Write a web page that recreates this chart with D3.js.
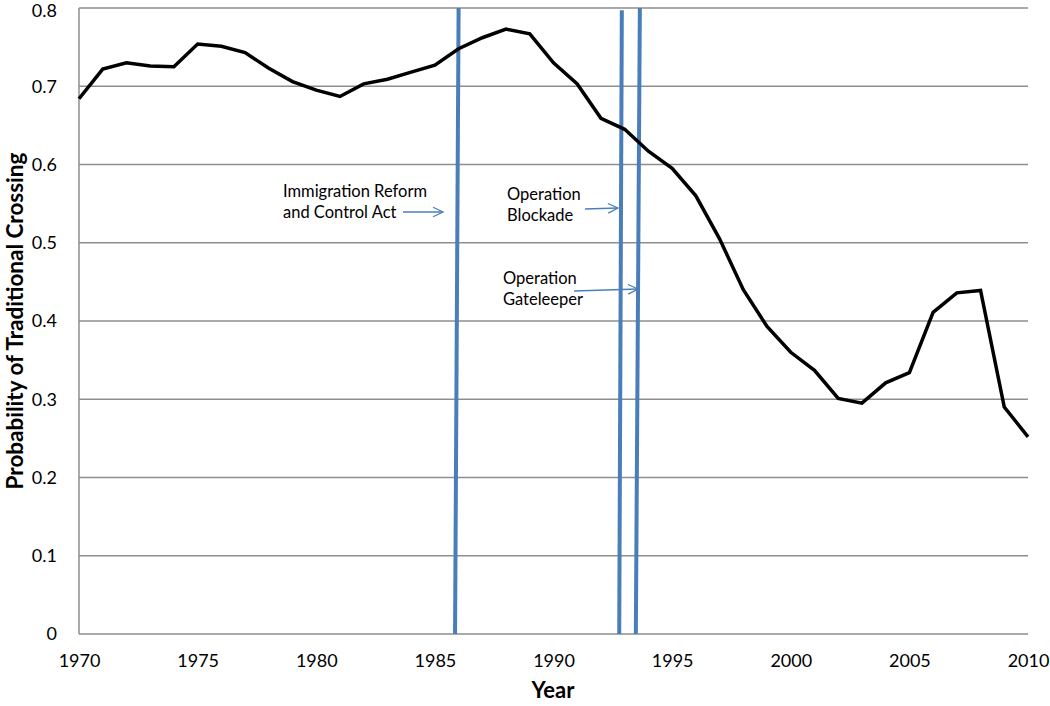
<!DOCTYPE html>
<html><head><meta charset="utf-8">
<script src="https://cdn.jsdelivr.net/npm/d3@7"></script>
<style>body{margin:0;background:#fff}svg{display:block}text{font-family:Lato,"Open Sans",sans-serif}</style>
</head><body><svg id="c" width="1050" height="706"></svg>
<script>
const years = d3.range(1970, 2011);
const probability = [0.684,0.722,0.730,0.726,0.725,0.754,0.751,0.743,0.723,0.706,
  0.695,0.687,0.703,0.709,0.718,0.727,0.748,0.762,0.773,0.767,
  0.730,0.703,0.659,0.645,0.617,0.595,0.560,0.505,0.440,0.393,
  0.360,0.337,0.301,0.295,0.321,0.334,0.411,0.436,0.439,0.290,0.252];
const yTicks = [0,0.1,0.2,0.3,0.4,0.5,0.6,0.7,0.8];
const xTicks = [1970,1975,1980,1985,1990,1995,2000,2005,2010];
// policy lines: year at top, year at bottom (drawn slightly slanted in the original)
const policyTop = [1986.0, 1992.88, 1993.64];
const policyBottom = [1985.85, 1992.77, 1993.47];
const policyTopValue = [0.8, 0.797, 0.8];
const labels = [["Immigration Reform","and Control Act"],["Operation","Blockade"],["Operation","Gateleeper"]];

const svg = d3.select("#c");
const L=79, R=1028, T=8, B=634;
const x = d3.scaleLinear().domain([1970,2010]).range([L,R]);
const y = d3.scaleLinear().domain([0,0.8]).range([B,T]);

// grid
svg.append("g").selectAll("line").data(yTicks).join("line")
  .attr("x1",L).attr("x2",R).attr("y1",d=>y(d)).attr("y2",d=>y(d))
  .attr("stroke","#8e8e8e").attr("stroke-width",1.5);
// left axis line
svg.append("line").attr("x1",L).attr("x2",L).attr("y1",T).attr("y2",B).attr("stroke","#8e8e8e").attr("stroke-width",1.5);

// y axis labels
const yAxis = d3.axisLeft(y).tickValues(yTicks).tickSize(0).tickPadding(22).tickFormat(d=>d===0?"0":d3.format(".1f")(d));
const gy = svg.append("g").attr("transform",`translate(${L},0)`).call(yAxis);
gy.select(".domain").remove();
gy.selectAll("text").attr("font-size",18).attr("fill","#000").style("font-family","Lato, 'Open Sans', sans-serif")
  .attr("dy",d=>d===0.8?"0.45em":"0.32em");

const xAxis = d3.axisBottom(x).tickValues(xTicks).tickSize(0).tickPadding(20).tickFormat(d3.format("d"));
const gx = svg.append("g").attr("transform",`translate(0,${B})`).call(xAxis);
gx.select(".domain").remove();
gx.selectAll("text").attr("font-size",18).attr("fill","#000").style("font-family","Lato, 'Open Sans', sans-serif");

// axis titles
svg.append("text").attr("x",553).attr("y",698).attr("text-anchor","middle")
  .attr("font-size",22).attr("font-weight","bold").text("Year");
svg.append("text").attr("transform",`translate(23,${(T+B)/2}) rotate(-90)`).attr("text-anchor","middle")
  .attr("font-size",22.5).attr("font-weight","bold").text("Probability of Traditional Crossing");

// policy lines
svg.append("g").selectAll("line").data(policyTop).join("line")
  .attr("x1",(d,i)=>x(d)).attr("y1",(d,i)=>y(policyTopValue[i]))
  .attr("x2",(d,i)=>x(policyBottom[i])).attr("y2",y(0))
  .attr("stroke","#4a7ebb").attr("stroke-width",4);

// data line
svg.append("path").datum(years.map((yr,i)=>[yr,probability[i]]))
  .attr("d",d3.line().x(d=>x(d[0])).y(d=>y(d[1])))
  .attr("fill","none").attr("stroke","#000").attr("stroke-width",3.5).attr("stroke-linejoin","miter");

// annotations
const labelPos = [[283,192],[507,195],[503,279]];
const arrows = [[403,212,443,212],[585,209,618,208],[574,291,638,289]];
labels.forEach((lines,i)=>{
  const t = svg.append("text").attr("x",labelPos[i][0]).attr("y",labelPos[i][1]+5).attr("font-size",16.5).attr("fill","#000");
  lines.forEach((s,j)=>t.append("tspan").attr("x",labelPos[i][0]).attr("dy",j?21:0).text(s));
  const a = arrows[i];
  svg.append("line").attr("x1",a[0]).attr("y1",a[1]).attr("x2",a[2]).attr("y2",a[3]).attr("stroke","#4a7ebb").attr("stroke-width",1.3);
  const ang = Math.atan2(a[3]-a[1],a[2]-a[0]);
  const hl=11, hw=0.45;
  const p1=[a[2]-hl*Math.cos(ang-hw),a[3]-hl*Math.sin(ang-hw)];
  const p2=[a[2]-hl*Math.cos(ang+hw),a[3]-hl*Math.sin(ang+hw)];
  svg.append("path").attr("d",`M${p1}L${a[2]},${a[3]}L${p2}`).attr("fill","none").attr("stroke","#4a7ebb").attr("stroke-width",1.3);
});
</script></body></html>
